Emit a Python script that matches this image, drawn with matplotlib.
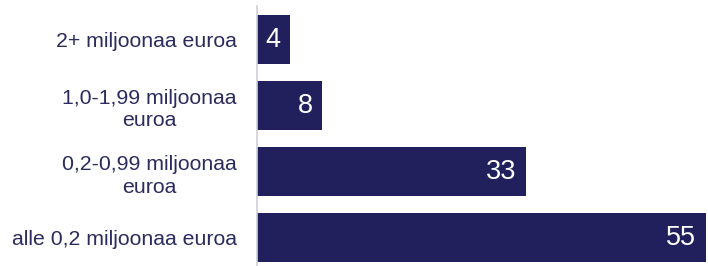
import matplotlib
matplotlib.use("Agg")
import matplotlib.pyplot as plt

categories = [
    "2+ miljoonaa euroa",
    "1,0-1,99 miljoonaa\neuroa",
    "0,2-0,99 miljoonaa\neuroa",
    "alle 0,2 miljoonaa euroa",
]
values = [4, 8, 33, 55]

bar_color = "#21205c"
text_color = "#2b2b5e"

plt.rcParams["font.family"] = ["Liberation Sans", "DejaVu Sans"]

W, H = 708, 266
fig = plt.figure(figsize=(W / 100, H / 100), dpi=100)
left, right, top, bottom = 257, 708, 6.5, 266
ax = fig.add_axes([left / W, 1 - bottom / H, (right - left) / W, (bottom - top) / H])

ypos = list(range(len(values)))
ax.barh(ypos, values, height=0.74, color=bar_color)

ax.set_xlim(0, 55 * (right - left) / (706 - left))
ax.set_ylim(3.5 - (271 - 266) / 66, -0.5)

for y, v in zip(ypos, values):
    ax.annotate(str(v), (v, y), xytext=(-7, 0), textcoords="offset points",
                ha="right", va="center", color="white", fontsize=19.5)

ax.set_yticks(ypos)
ax.set_yticklabels(categories, fontsize=15.3, color=text_color,
                   multialignment="center", linespacing=1.25)
ax.tick_params(axis="y", length=0, pad=14.5)
ax.set_xticks([])
for s in ["top", "right", "bottom"]:
    ax.spines[s].set_visible(False)
ax.spines["left"].set_color("#d0d0d8")
ax.spines["left"].set_linewidth(1.2)

fig.savefig("out.png", dpi=100)
